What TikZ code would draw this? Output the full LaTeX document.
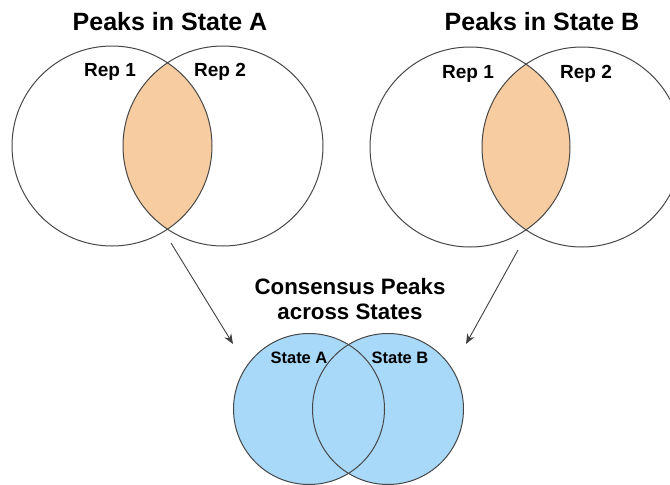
\documentclass[tikz,border=0pt]{standalone}
\usepackage{fontspec}
\setmainfont{Liberation Sans}
\usetikzlibrary{arrows.meta}
\definecolor{lensorange}{RGB}{246,204,160}
\definecolor{stateblue}{RGB}{169,217,249}
\tikzset{
  repcircle/.style = {circle, draw=black!72, line width=1pt, minimum size=200pt, inner sep=0pt},
  statecircle/.style = {repcircle, minimum size=151pt},
  title/.style = {font=\bfseries\fontsize{25}{30}\selectfont},
  replabel/.style = {font=\bfseries\fontsize{19}{22}\selectfont},
  statelabel/.style = {font=\bfseries\fontsize{16.5}{19}\selectfont},
  toconsensus/.style = {draw=black!75, line width=0.9pt, -{Stealth[length=10pt,width=8pt]}}
}

\begin{document}
\begin{tikzpicture}[x=1pt, y=-1pt]
  \useasboundingbox (0,0) rectangle (670,485);
  % state A replicates
  \begin{scope}
    \clip (112,146) circle (100);
    \fill[lensorange] (223,146) circle (100);
  \end{scope}
  \node [repcircle] (a1) at (112,146) {};
  \node [repcircle] (a2) at (223,146) {};
  \node [title] (titleA) at (170,22) {Peaks in State A};
  \node [replabel] (repA1) at (110,72) {Rep 1};
  \node [replabel] (repA2) at (220,72) {Rep 2};
  % state B replicates
  \begin{scope}
    \clip (470,147) circle (100);
    \fill[lensorange] (582,147) circle (100);
  \end{scope}
  \node [repcircle] (b1) at (470,147) {};
  \node [repcircle] (b2) at (582,147) {};
  \node [title] (titleB) at (542,22) {Peaks in State B};
  \node [replabel] (repB1) at (468,74) {Rep 1};
  \node [replabel] (repB2) at (586,74) {Rep 2};
  % consensus
  \fill[stateblue] (309,409) circle (75.5) (388,409) circle (75.5);
  \node [statecircle] (c1) at (309,409) {};
  \node [statecircle] (c2) at (388,409) {};
  \node [title, font=\bfseries\fontsize{22.3}{25}\selectfont, align=center] (consensus) at (350,299) {Consensus Peaks\\across States};
  \node [statelabel] (stA) at (299,358) {State A};
  \node [statelabel] (stB) at (400,358) {State B};
  % arrows
  \coordinate (fromA) at (171,243);
  \coordinate (toA) at (233,344);
  \coordinate (fromB) at (518,250);
  \coordinate (toB) at (466,344);
  \draw [toconsensus] (fromA) -- (toA);
  \draw [toconsensus] (fromB) -- (toB);
\end{tikzpicture}
\end{document}
